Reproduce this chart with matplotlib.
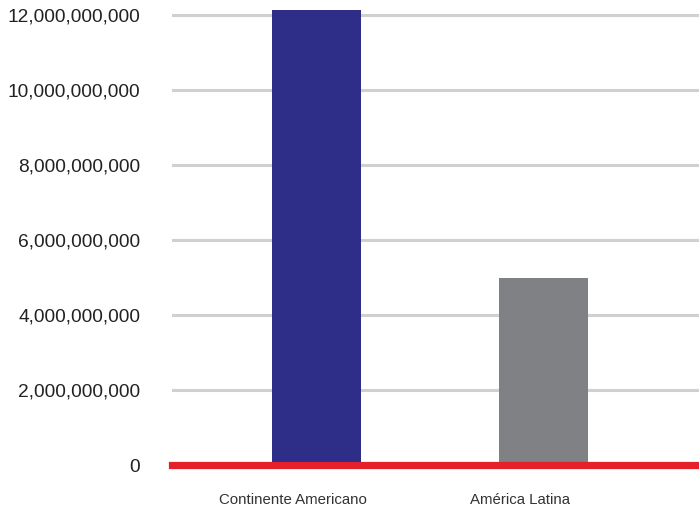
import matplotlib.pyplot as plt
import matplotlib.transforms as mtransforms
from matplotlib.ticker import FuncFormatter

plt.rcParams['font.family'] = ['Liberation Sans', 'DejaVu Sans']

categories = ['Continente Americano', 'América Latina']
values = [12130000000, 4990000000]
colors = ['#2e2d88', '#808184']
yticks = [0, 2e9, 4e9, 6e9, 8e9, 10e9, 12e9]

fig = plt.figure(figsize=(6.99, 5.08), dpi=100)
ax = fig.add_axes([0.246, 0.0846, 0.754, 0.9154])

x = list(range(len(categories)))
ax.bar(x, values, width=0.39, color=colors, zorder=2)

ax.set_xlim(-0.637, 1.685)
ax.set_ylim(0, 12.4e9)
ax.set_yticks(yticks)
ax.yaxis.set_major_formatter(FuncFormatter(lambda v, p: f'{int(v):,}'))
ax.grid(axis='y', color='#d0d0d0', linewidth=2.2, zorder=0)
ax.axhline(0, color='#e4212b', linewidth=5.2, zorder=3, clip_on=False)

ax.set_xticks(x)
ax.set_xticklabels(categories, fontsize=10.8, color='#333333')
ax.tick_params(axis='y', labelsize=13.8, labelcolor='#222222', length=0, pad=23)
ax.tick_params(axis='x', length=0, pad=20)
offset = mtransforms.ScaledTranslation(-24 / 100, 0, fig.dpi_scale_trans)
for lab in ax.get_xticklabels():
    lab.set_transform(lab.get_transform() + offset)

for s in ax.spines.values():
    s.set_visible(False)

fig.savefig('out.png', dpi=100)
